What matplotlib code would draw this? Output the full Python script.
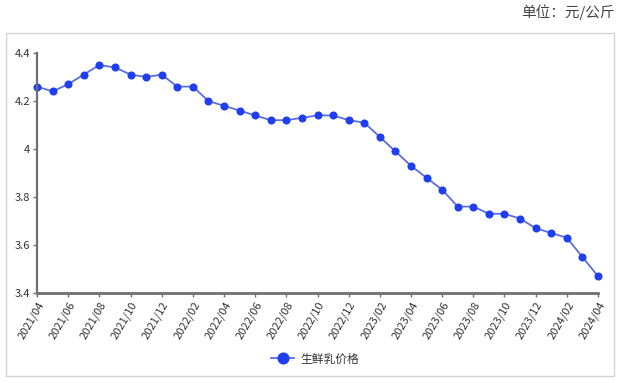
import matplotlib
matplotlib.use("Agg")
import matplotlib.pyplot as plt
from matplotlib.patches import Rectangle

plt.rcParams['font.family'] = ['Noto Sans CJK SC', 'DejaVu Sans']

months = ["2021/04", "2021/05", "2021/06", "2021/07", "2021/08", "2021/09", "2021/10", "2021/11", "2021/12",
          "2022/01", "2022/02", "2022/03", "2022/04", "2022/05", "2022/06", "2022/07", "2022/08", "2022/09",
          "2022/10", "2022/11", "2022/12", "2023/01", "2023/02", "2023/03", "2023/04", "2023/05", "2023/06",
          "2023/07", "2023/08", "2023/09", "2023/10", "2023/11", "2023/12", "2024/01", "2024/02", "2024/03",
          "2024/04"]
prices = [4.26, 4.24, 4.27, 4.31, 4.35, 4.34, 4.31, 4.30, 4.31,
          4.26, 4.26, 4.20, 4.18, 4.16, 4.14, 4.12, 4.12, 4.13,
          4.14, 4.14, 4.12, 4.11, 4.05, 3.99, 3.93, 3.88, 3.83,
          3.76, 3.76, 3.73, 3.73, 3.71, 3.67, 3.65, 3.63, 3.55,
          3.47]
series_name = "生鲜乳价格"
y_ticks = [3.4, 3.6, 3.8, 4.0, 4.2, 4.4]
y_tick_labels = ["3.4", "3.6", "3.8", "4", "4.2", "4.4"]
unit_text = "单位：元/公斤"

W, H = 619, 383
fig = plt.figure(figsize=(W / 100, H / 100), dpi=100)

# outer frame
fig.patches.append(Rectangle((6 / W, 1 - 376 / H), (614 - 6) / W, (376 - 33) / H,
                             transform=fig.transFigure, fill=False,
                             edgecolor='#d4d4d4', linewidth=1.0))

ax = fig.add_axes([37 / W, 1 - 293 / H, (598 - 37) / W, (293 - 53) / H])
x = list(range(len(months)))
ax.plot(x, prices, color='#5b6ee0', linewidth=1.3, marker='o', markersize=4.8,
        markerfacecolor='#1f3ef0', markeredgecolor='#1f3ef0', label=series_name,
        clip_on=False)

ax.set_xlim(0, len(months) - 1)
ax.set_ylim(3.4, 4.4)
ax.set_yticks(y_ticks)
ax.set_yticklabels(y_tick_labels)
ax.set_xticks(x[::2])
ax.set_xticklabels(months[::2], rotation=60, ha='right', rotation_mode='anchor')

for s in ['top', 'right']:
    ax.spines[s].set_visible(False)
ax.spines['left'].set_color('#707070')
ax.spines['left'].set_linewidth(1.6)
ax.spines['bottom'].set_color('#707070')
ax.spines['bottom'].set_linewidth(2.0)
ax.tick_params(axis='both', colors='#707070', labelcolor='#333333', labelsize=8,
               length=3, width=1, pad=2)

leg = fig.legend(loc='center', bbox_to_anchor=(315 / W, 1 - 359 / H), frameon=False,
                 fontsize=8.5, handlelength=2.0, handletextpad=0.5, markerscale=1.6)
for t in leg.get_texts():
    t.set_color('#333333')

fig.text(615 / W, 1 - 12 / H, unit_text, ha='right', va='center', fontsize=10.5, color='#444444')

fig.savefig('out.png', dpi=100)
